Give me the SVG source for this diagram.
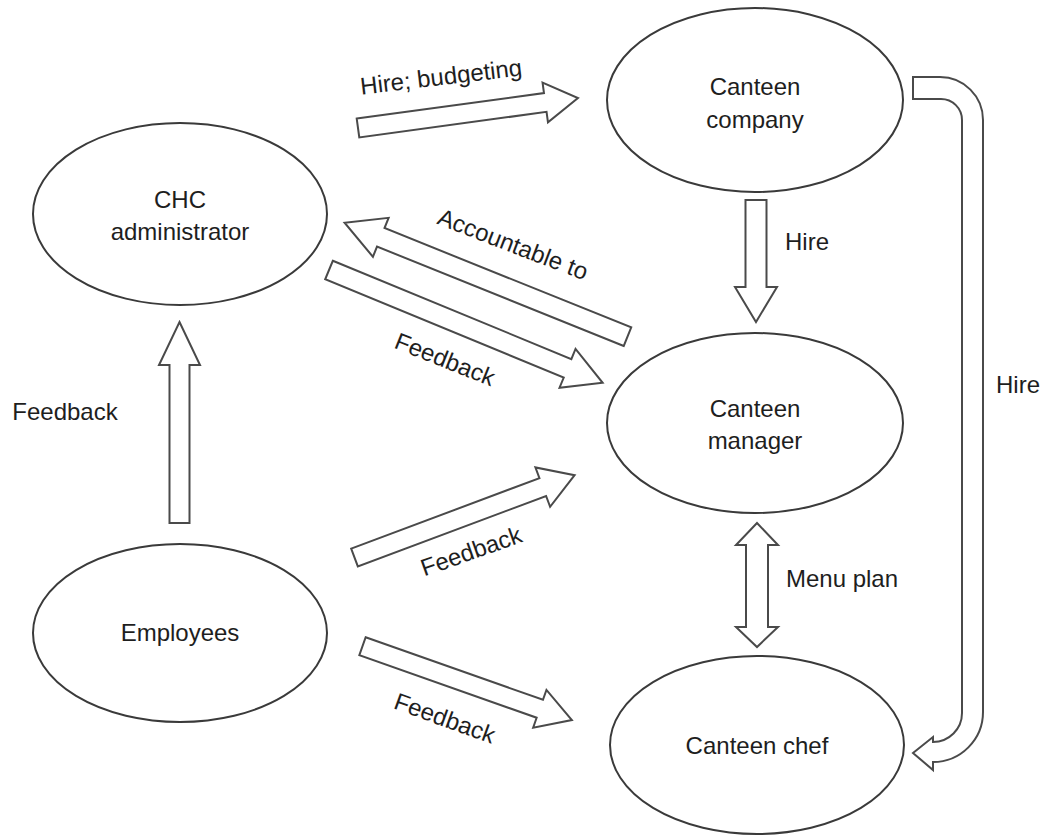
<svg xmlns="http://www.w3.org/2000/svg" width="1045" height="835" viewBox="0 0 1045 835">
<style>
.node ellipse{fill:#fff;stroke:#3a3a3a;stroke-width:2}
.node text,.lbl{font-family:"Liberation Sans",Arial,sans-serif;font-size:24px;fill:#1e1e1e;text-anchor:middle}
.arr{fill:#fff;stroke:#4a4a4a;stroke-width:2;stroke-linejoin:miter}
</style>
<rect width="1045" height="835" fill="#fff"/>
<g id="chc-administrator" class="node">
<ellipse cx="180" cy="214" rx="147" ry="91"/>
<text x="180" y="208">CHC</text>
<text x="180" y="240">administrator</text>
</g>
<g id="canteen-company" class="node">
<ellipse cx="755" cy="100" rx="148" ry="92"/>
<text x="755" y="95">Canteen</text>
<text x="755" y="128">company</text>
</g>
<g id="canteen-manager" class="node">
<ellipse cx="755" cy="423" rx="148" ry="90"/>
<text x="755" y="417">Canteen</text>
<text x="755" y="449">manager</text>
</g>
<g id="employees" class="node">
<ellipse cx="180" cy="633" rx="147" ry="89"/>
<text x="180" y="641">Employees</text>
</g>
<g id="canteen-chef" class="node">
<ellipse cx="757" cy="745" rx="147" ry="89"/>
<text x="757" y="754">Canteen chef</text>
</g>
<g id="connectors">
<polygon class="arr" transform="translate(358,128) rotate(-7.77)" points="0,-9.5 189,-9.5 189,-20 222,0 189,20 189,9.5 0,9.5"/>
<polygon class="arr" transform="translate(627.5,336.7) rotate(201.94)" points="0,-10 266,-10 266,-21 305,0 266,21 266,10 0,10"/>
<polygon class="arr" transform="translate(329,270) rotate(22.4)" points="0,-10 258,-10 258,-21 296,0 258,21 258,10 0,10"/>
<polygon class="arr" points="745.5,200 766.5,200 766.5,287 777,287 756,322 735,287 745.5,287"/>
<polygon class="arr" points="757,523 778,545 768,545 768,627 778,627 757,647 736,627 746,627 746,545 736,545"/>
<polygon class="arr" points="179.5,322 200,365 189.5,365 189.5,523 169.5,523 169.5,365 159,365"/>
<polygon class="arr" transform="translate(354.5,557.5) rotate(-20.51)" points="0,-9.5 201,-9.5 201,-21 235,0 201,21 201,9.5 0,9.5"/>
<polygon class="arr" transform="translate(362.5,646.25) rotate(19.42)" points="0,-9.5 188,-9.5 188,-20 222,0 188,20 188,9.5 0,9.5"/>
<path class="arr" d="M913,77 L940,77 A43,43 0 0 1 983,120 L983,712 A50,50 0 0 1 933,762 L933,770 L913,753 L933,737 L933,742 A29,29 0 0 0 962,713 L962,120 A21,21 0 0 0 941,99 L913,99 Z"/>
<text class="lbl" transform="translate(442,85) rotate(-6.8)">Hire; budgeting</text>
<text class="lbl" transform="translate(510,252) rotate(21)">Accountable to</text>
<text class="lbl" transform="translate(442,367) rotate(21.7)">Feedback</text>
<text class="lbl" x="807" y="250">Hire</text>
<text class="lbl" x="1018" y="393">Hire</text>
<text class="lbl" x="65" y="420">Feedback</text>
<text class="lbl" x="842" y="587">Menu plan</text>
<text class="lbl" transform="translate(474,559) rotate(-19.5)">Feedback</text>
<text class="lbl" transform="translate(442,726) rotate(19.9)">Feedback</text>
</g>
</svg>
